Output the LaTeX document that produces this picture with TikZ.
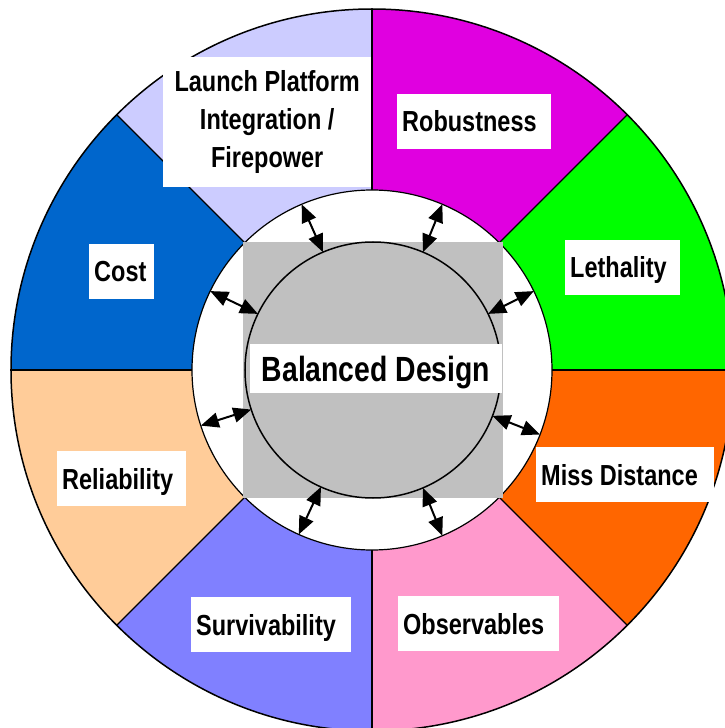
\documentclass[tikz,border=0pt]{standalone}
\usepackage{fontspec}
\newfontfamily\labelfont{Liberation Sans}[FakeStretch=0.81]
\usetikzlibrary{arrows.meta}

\definecolor{robust}{RGB}{224,0,224}
\definecolor{lethal}{RGB}{0,255,0}
\definecolor{missdist}{RGB}{255,102,0}
\definecolor{observ}{RGB}{255,153,204}
\definecolor{surviv}{RGB}{128,128,255}
\definecolor{reliab}{RGB}{255,204,153}
\definecolor{costc}{RGB}{0,102,204}
\definecolor{launch}{RGB}{204,204,255}
\definecolor{padgray}{RGB}{192,192,192}

\begin{document}
\begin{tikzpicture}[x=1pt,y=1pt,
    tag/.style={fill=white, anchor=west, align=flush left, inner xsep=5pt, inner ysep=0pt,
      minimum height=55pt, text height=21pt, text depth=0pt,
      font=\labelfont\bfseries\fontsize{29}{38}\selectfont},
    link/.style={line width=2pt,
      arrows={Triangle[length=18pt,width=15pt]-Triangle[length=18pt,width=15pt]}}]

  \useasboundingbox (-372,-358) rectangle (353,370);
  \clip (-372,-358) rectangle (353,370);

  % wheel
  \foreach \a/\c in {0/lethal, 45/robust, 90/launch, 135/costc,
                     180/reliab, 225/surviv, 270/observ, 315/missdist}
    \fill[\c] (0,0) -- (\a:361) arc (\a:\a+45:361) -- cycle;
  \foreach \a in {0,45,...,315}
    \draw[line width=1.2pt] (0,0) -- (\a:361);
  \draw[line width=1.5pt] (0,0) circle (361);

  % centre
  \node[circle, draw, fill=white, line width=1.2pt, minimum size=360pt, outer sep=0pt] (ring) at (0,0) {};
  \node[fill=padgray, minimum width=260pt, minimum height=255pt] (pad) at (1,0) {};
  \node[circle, draw, line width=1.5pt, minimum size=256pt, outer sep=0pt] (hub) at (1,0) {};
  \node[fill=white, inner sep=0pt, minimum width=252pt, minimum height=49pt,
        text height=25pt, text depth=0pt,
        font=\labelfont\bfseries\fontsize{35}{42}\selectfont] (title) at (4,1.5) {Balanced Design};

  \foreach \a in {113,67,26,154,198,-21,-114,-67}
    \draw[link] (hub.\a) -- (ring.\a);

  % labels
  \node[tag, align=flush center, text width=194pt, minimum width=208pt, minimum height=130pt,
        text height=, text depth=]
    (platform) at (-209,248) {Launch Platform\\Integration /\\Firepower};
  \node[tag, text width=144pt] (robustness) at (25,248.5) {Robustness};
  \node[tag, text width=105pt] (lethality) at (193,102.5) {Lethality};
  \node[tag, text width=168pt] (miss) at (164,-104.5) {Miss Distance};
  \node[tag, text width=151pt] (observables) at (26,-253.5) {Observables};
  \node[tag, text width=150pt] (survivability) at (-181,-254.5) {Survivability};
  \node[tag, text width=119pt] (reliability) at (-315,-108.5) {Reliability};
  \node[tag, text width=55pt] (cost) at (-283,98.5) {Cost};
\end{tikzpicture}
\end{document}
